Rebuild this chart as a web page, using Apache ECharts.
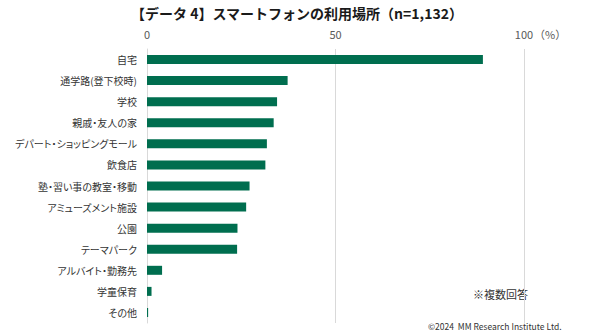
<!DOCTYPE html>
<html>
<head>
<meta charset="utf-8">
<script src="https://cdn.jsdelivr.net/npm/echarts@6/dist/echarts.min.js"></script>
<style>
  html, body { margin: 0; padding: 0; background: #fff; }
  #chart { width: 590px; height: 336px; }
  /* proportional kana and punctuation for the Japanese labels */
  #chart text { font-feature-settings: "palt" 1; }
</style>
</head>
<body>
<div id="chart"></div>
<script>
// Places where smartphones are used (multiple answers, %)
const places = [
  '自宅', '通学路(登下校時)', '学校', '親戚・友人の家', 'デパート・ショッピングモール',
  '飲食店', '塾・習い事の教室・移動', 'アミューズメント施設', '公園', 'テーマパーク',
  'アルバイト・勤務先', '学童保育', 'その他'
];
const shares = [89.1, 37.3, 34.5, 33.6, 31.8, 31.4, 27.2, 26.3, 24.0, 23.9, 4.0, 1.2, 0.3];
const tickValues = [0, 50, 100];

const FONT = '"Noto Sans CJK JP", "Noto Sans", sans-serif';
const chart = echarts.init(document.getElementById('chart'), null, { renderer: 'svg' });

chart.setOption({
  backgroundColor: '#ffffff',
  animation: false,
  textStyle: { fontFamily: FONT },
  grid: { left: 147, right: 66, top: 49, bottom: 13, containLabel: false, outerBoundsMode: 'none' },
  xAxis: {
    type: 'value',
    position: 'top',
    min: tickValues[0],
    max: tickValues[tickValues.length - 1],
    interval: tickValues[1] - tickValues[0],
    axisLine: { show: false },
    axisTick: { show: false },
    axisLabel: { color: '#595959', fontSize: 11, margin: 10 },
    splitLine: { show: true, lineStyle: { color: '#d9d9d9', width: 1 } }
  },
  yAxis: {
    type: 'category',
    inverse: true,
    data: places,
    axisLine: { show: true, lineStyle: { color: '#d9d9d9' } },
    axisTick: { show: false },
    axisLabel: { color: '#333333', fontSize: 10, margin: 10 }
  },
  series: [{
    type: 'bar',
    data: shares,
    barWidth: 9,
    itemStyle: { color: '#006e4f' }
  }],
  graphic: [
    {
      type: 'text', x: 297, y: 13,
      style: {
        text: '【データ 4】スマートフォンの利用場所（n=1,132）',
        fill: '#1a1a1a', font: 'bold 14px ' + FONT,
        align: 'center', verticalAlign: 'middle'
      }
    },
    {
      type: 'text', left: 534, top: 28,
      style: { text: '（%）', fill: '#595959', font: '11px ' + FONT }
    },
    {
      type: 'text', left: 473, top: 288,
      style: { text: '※複数回答', fill: '#333333', font: '11px ' + FONT }
    },
    {
      type: 'text', left: 428, top: 322,
      style: { text: '©2024  MM Research Institute Ltd.', fill: '#333333', font: '8.5px ' + FONT }
    }
  ]
});
</script>
</body>
</html>
